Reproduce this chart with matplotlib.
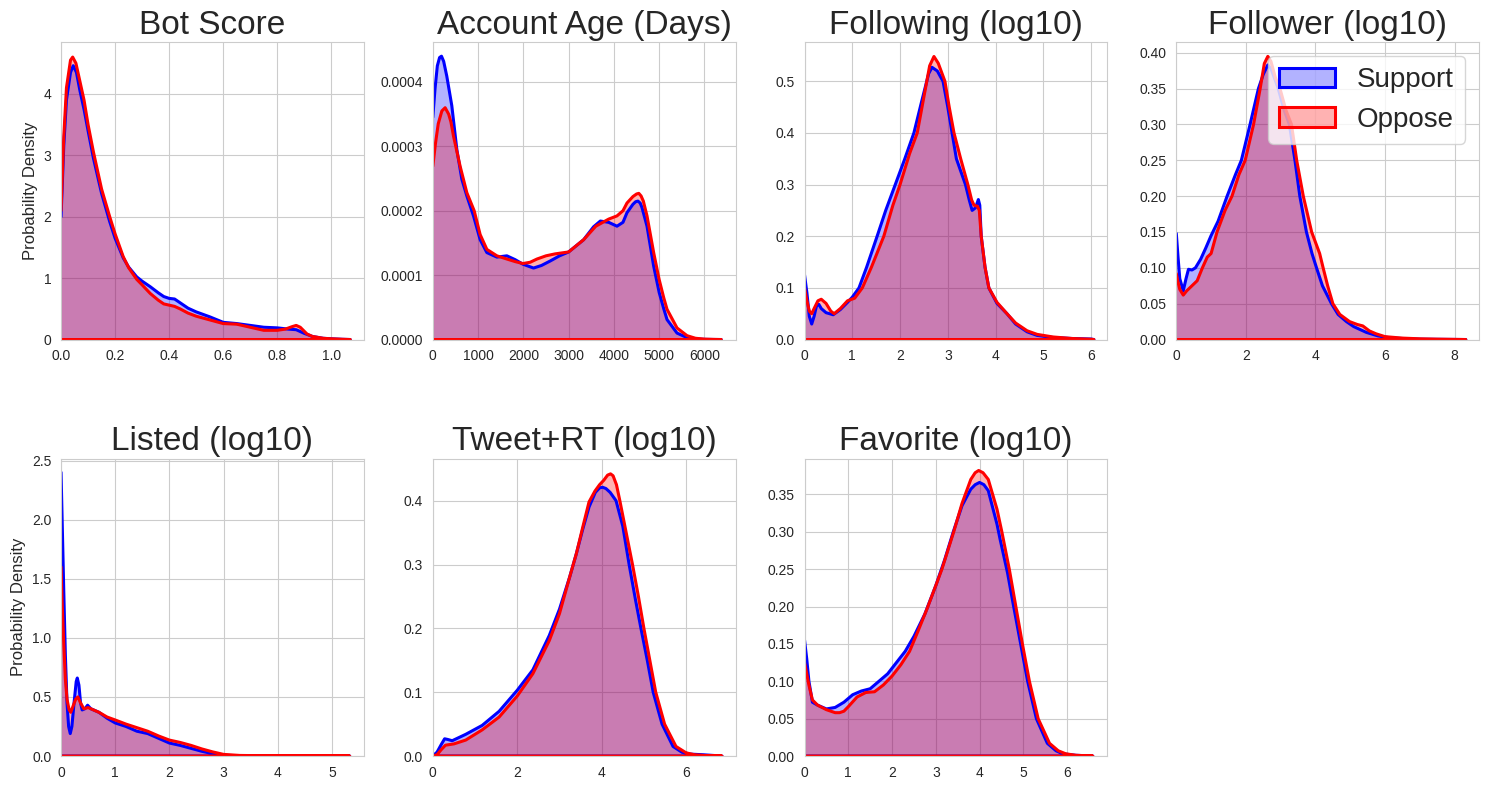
import matplotlib
matplotlib.use("Agg")
import matplotlib.pyplot as plt
from matplotlib.ticker import FormatStrFormatter
from matplotlib.patches import Patch
from matplotlib.colors import to_rgba
import seaborn as sns

sns.set_style("whitegrid")
plt.rcParams['font.family'] = ['Liberation Sans', 'DejaVu Sans']

titles = ["Bot Score", "Account Age (Days)", "Following (log10)", "Follower (log10)",
          "Listed (log10)", "Tweet+RT (log10)", "Favorite (log10)"]
labels = ["Support", "Oppose"]

bot_support = [(0,2.0),(0.01,3.15),(0.02,3.9),(0.035,4.35),(0.045,4.46),(0.057,4.35),(0.07,4.05),(0.085,3.75),
               (0.1,3.4),(0.12,2.95),(0.15,2.38),(0.18,1.92),(0.2,1.65),(0.23,1.33),(0.25,1.18),(0.28,1.02),
               (0.3,0.95),(0.33,0.86),(0.36,0.76),(0.38,0.7),(0.4,0.67),(0.42,0.66),(0.44,0.6),(0.47,0.51),
               (0.5,0.45),(0.55,0.37),(0.6,0.28),(0.65,0.26),(0.7,0.23),(0.75,0.2),(0.8,0.19),(0.84,0.17),
               (0.87,0.16),(0.9,0.1),(0.93,0.05),(0.97,0.02),(1.0,0.012),(1.04,0.004),(1.07,0)]
bot_oppose = [(0,2.1),(0.01,3.3),(0.02,4.1),(0.035,4.55),(0.043,4.6),(0.055,4.5),(0.07,4.2),(0.085,3.9),
              (0.1,3.5),(0.12,3.05),(0.15,2.45),(0.18,2.0),(0.2,1.72),(0.23,1.35),(0.25,1.17),(0.28,0.98),
              (0.3,0.89),(0.33,0.75),(0.36,0.64),(0.38,0.58),(0.4,0.56),(0.42,0.54),(0.44,0.5),(0.47,0.43),
              (0.5,0.38),(0.55,0.32),(0.6,0.26),(0.65,0.25),(0.7,0.2),(0.75,0.15),(0.8,0.15),(0.83,0.17),
              (0.855,0.21),(0.87,0.23),(0.885,0.2),(0.91,0.09),(0.93,0.05),(0.97,0.02),(1.0,0.012),(1.04,0.004),(1.07,0)]

# account age densities in units of 1e-4
age_support = [(0,3.45),(50,3.9),(100,4.25),(150,4.38),(192,4.40),(240,4.32),(309,4.09),(420,3.63),(531,2.95),
               (641,2.49),(752,2.23),(899,1.92),(1046,1.55),(1194,1.35),(1415,1.28),(1636,1.3),(1820,1.24),
               (1990,1.17),(2225,1.11),(2400,1.15),(2594,1.22),(2800,1.3),(3000,1.36),(3331,1.55),(3550,1.75),
               (3700,1.84),(3884,1.82),(4068,1.76),(4200,1.82),(4289,1.97),(4420,2.1),(4480,2.14),(4530,2.15),
               (4580,2.12),(4620,2.05),(4731,1.76),(4878,1.14),(5000,0.73),(5100,0.48),(5173,0.31),(5394,0.10),
               (5615,0.03),(5800,0.01),(6000,0.003),(6200,0.001),(6370,0)]
age_oppose = [(0,2.69),(60,3.05),(120,3.35),(200,3.55),(273,3.6),(350,3.5),(400,3.38),(457,3.16),(604,2.69),
              (752,2.28),(914,2.0),(1046,1.63),(1194,1.4),(1415,1.3),(1636,1.25),(1820,1.21),(1990,1.18),
              (2150,1.2),(2300,1.25),(2500,1.3),(2700,1.33),(3000,1.36),(3331,1.55),(3600,1.76),(3884,1.87),
              (4068,1.92),(4200,2.0),(4289,2.12),(4420,2.22),(4500,2.26),(4550,2.27),(4600,2.23),(4650,2.15),
              (4731,1.92),(4878,1.35),(5000,0.93),(5100,0.65),(5173,0.47),(5394,0.18),(5615,0.06),(5800,0.02),
              (6000,0.006),(6200,0.002),(6370,0)]

following_support = [(0,0.125),(0.05,0.09),(0.1,0.045),(0.15,0.03),(0.2,0.045),(0.25,0.065),(0.3,0.068),
                     (0.35,0.06),(0.45,0.052),(0.6,0.048),(0.75,0.058),(0.9,0.072),(1.0,0.082),(1.14,0.1),
                     (1.3,0.14),(1.52,0.2),(1.7,0.25),(1.9,0.3),(2.1,0.35),(2.29,0.4),(2.45,0.46),(2.6,0.515),
                     (2.67,0.527),(2.78,0.52),(2.9,0.5),(3.0,0.45),(3.09,0.4),(3.18,0.35),(3.37,0.3),(3.45,0.27),
                     (3.51,0.25),(3.58,0.255),(3.64,0.271),(3.67,0.26),(3.7,0.2),(3.78,0.14),(3.86,0.1),
                     (4.03,0.07),(4.24,0.05),(4.42,0.03),(4.66,0.015),(4.87,0.008),(5.2,0.004),(5.6,0.002),
                     (6.0,0.001),(6.06,0)]
following_oppose = [(0,0.1),(0.05,0.075),(0.1,0.055),(0.15,0.05),(0.2,0.06),(0.28,0.075),(0.35,0.078),
                    (0.45,0.07),(0.55,0.055),(0.62,0.05),(0.75,0.06),(0.9,0.075),(1.05,0.08),(1.21,0.1),
                    (1.4,0.14),(1.66,0.2),(1.85,0.26),(2.0,0.3),(2.2,0.36),(2.36,0.4),(2.5,0.47),(2.62,0.53),
                    (2.71,0.548),(2.8,0.535),(2.94,0.5),(3.03,0.45),(3.13,0.4),(3.27,0.35),(3.42,0.3),
                    (3.5,0.27),(3.55,0.26),(3.62,0.258),(3.66,0.25),(3.7,0.2),(3.78,0.14),(3.86,0.1),
                    (4.03,0.072),(4.24,0.05),(4.42,0.032),(4.66,0.017),(4.87,0.01),(5.2,0.005),(5.6,0.002),
                    (6.0,0.0005),(6.06,0)]

follower_support = [(0,0.148),(0.05,0.115),(0.1,0.085),(0.2,0.068),(0.28,0.085),(0.35,0.098),(0.45,0.097),
                    (0.55,0.1),(0.7,0.112),(0.85,0.128),(1.0,0.145),(1.2,0.165),(1.46,0.2),(1.7,0.23),
                    (1.87,0.25),(2.12,0.3),(2.36,0.35),(2.5,0.37),(2.63,0.383),(2.72,0.378),(2.82,0.365),
                    (2.93,0.35),(3.1,0.32),(3.25,0.3),(3.41,0.25),(3.55,0.2),(3.74,0.15),(3.9,0.12),
                    (4.03,0.1),(4.2,0.075),(4.46,0.05),(4.65,0.035),(4.89,0.025),(5.1,0.018),(5.46,0.01),
                    (5.8,0.005),(6.2,0.002),(7.0,0.0005),(8.32,0)]
follower_oppose = [(0,0.092),(0.05,0.08),(0.1,0.07),(0.2,0.062),(0.3,0.068),(0.45,0.075),(0.6,0.082),
                   (0.75,0.1),(0.89,0.115),(1.0,0.12),(1.17,0.15),(1.4,0.18),(1.6,0.2),(1.8,0.23),(1.98,0.25),
                   (2.22,0.3),(2.41,0.35),(2.53,0.385),(2.63,0.395),(2.72,0.388),(2.85,0.365),(2.98,0.35),
                   (3.15,0.32),(3.31,0.3),(3.46,0.25),(3.65,0.2),(3.89,0.15),(4.12,0.12),(4.22,0.1),
                   (4.35,0.075),(4.5,0.05),(4.7,0.035),(4.98,0.025),(5.2,0.021),(5.36,0.019),(5.55,0.012),
                   (5.74,0.008),(6.0,0.004),(6.5,0.002),(7.0,0.001),(7.5,0.0005),(8.32,0)]

listed_support = [(0,2.4),(0.02,2.0),(0.05,1.4),(0.08,0.85),(0.11,0.45),(0.14,0.25),(0.17,0.19),(0.2,0.25),
                  (0.24,0.45),(0.28,0.63),(0.3,0.66),(0.33,0.6),(0.36,0.45),(0.39,0.39),(0.44,0.4),
                  (0.49,0.43),(0.55,0.4),(0.7,0.37),(0.85,0.32),(1.0,0.28),(1.2,0.25),(1.4,0.21),(1.6,0.19),
                  (1.8,0.15),(2.0,0.11),(2.2,0.09),(2.4,0.065),(2.6,0.04),(2.8,0.02),(3.0,0.006),(3.3,0.003),
                  (4.0,0.001),(5.33,0)]
listed_oppose = [(0,1.6),(0.02,1.3),(0.05,0.95),(0.08,0.65),(0.11,0.48),(0.15,0.39),(0.18,0.37),(0.22,0.42),
                 (0.27,0.48),(0.31,0.5),(0.36,0.45),(0.42,0.4),(0.5,0.41),(0.6,0.39),(0.7,0.37),(0.85,0.33),
                 (1.0,0.305),(1.2,0.27),(1.4,0.24),(1.6,0.21),(1.8,0.17),(2.0,0.135),(2.2,0.115),(2.4,0.09),
                 (2.6,0.06),(2.8,0.035),(3.0,0.014),(3.3,0.005),(4.0,0.001),(5.33,0)]

tweet_support = [(0,0.0),(0.1,0.006),(0.2,0.018),(0.28,0.027),(0.35,0.026),(0.46,0.024),(0.78,0.034),
                 (1.17,0.048),(1.57,0.07),(2.0,0.103),(2.37,0.135),(2.76,0.189),(3.0,0.23),(3.24,0.28),
                 (3.4,0.317),(3.55,0.355),(3.7,0.39),(3.85,0.413),(3.95,0.42),(4.02,0.421),(4.1,0.419),
                 (4.2,0.413),(4.34,0.4),(4.5,0.36),(4.65,0.3),(4.8,0.245),(4.93,0.2),(5.08,0.15),(5.22,0.1),
                 (5.43,0.05),(5.69,0.015),(5.9,0.006),(6.1,0.003),(6.4,0.002),(6.85,0)]
tweet_oppose = [(0,0),(0.1,0.002),(0.2,0.01),(0.3,0.017),(0.5,0.019),(0.78,0.025),(1.17,0.041),(1.57,0.061),
                (2.0,0.094),(2.37,0.129),(2.76,0.181),(3.0,0.223),(3.24,0.28),(3.4,0.317),(3.55,0.358),
                (3.7,0.398),(3.84,0.415),(3.95,0.425),(4.05,0.432),(4.14,0.44),(4.21,0.442),(4.27,0.439),
                (4.35,0.425),(4.43,0.4),(4.58,0.35),(4.73,0.3),(4.87,0.25),(5.0,0.2),(5.14,0.15),(5.28,0.1),
                (5.49,0.05),(5.76,0.015),(6.0,0.005),(6.2,0.002),(6.5,0.0005),(6.85,0)]

favorite_support = [(0,0.155),(0.05,0.13),(0.1,0.1),(0.18,0.072),(0.3,0.068),(0.5,0.063),(0.7,0.065),
                    (0.9,0.072),(1.1,0.082),(1.3,0.087),(1.5,0.09),(1.7,0.1),(1.9,0.11),(2.1,0.125),
                    (2.3,0.14),(2.5,0.16),(2.75,0.19),(3.0,0.228),(3.2,0.262),(3.4,0.3),(3.6,0.335),
                    (3.8,0.357),(3.9,0.363),(4.0,0.366),(4.1,0.363),(4.2,0.355),(4.4,0.31),(4.47,0.29),
                    (4.64,0.245),(4.78,0.2),(4.94,0.15),(5.1,0.1),(5.3,0.05),(5.55,0.017),(5.75,0.007),
                    (5.9,0.003),(6.2,0.001),(6.59,0)]
favorite_oppose = [(0,0.125),(0.05,0.11),(0.1,0.095),(0.18,0.075),(0.3,0.068),(0.5,0.062),(0.7,0.058),
                   (0.8,0.058),(0.9,0.06),(1.0,0.066),(1.2,0.079),(1.4,0.085),(1.6,0.086),(1.8,0.095),
                   (2.0,0.107),(2.2,0.122),(2.4,0.14),(2.6,0.168),(2.8,0.197),(3.0,0.228),(3.14,0.25),
                   (3.41,0.3),(3.6,0.338),(3.8,0.37),(3.9,0.379),(3.98,0.382),(4.08,0.379),(4.2,0.37),
                   (4.4,0.33),(4.51,0.3),(4.68,0.25),(4.83,0.2),(4.98,0.15),(5.14,0.1),(5.34,0.05),(5.6,0.017),
                   (5.8,0.007),(5.97,0.003),(6.2,0.001),(6.59,0)]

panels = [
    (bot_support, bot_oppose, 1.0, (0, 1.12), (0, 4.845), None),
    (age_support, age_oppose, 1e-4, (0, 6686), (0, 4.62e-4), '%.4f'),
    (following_support, following_oppose, 1.0, (0, 6.34), (0, 0.576), None),
    (follower_support, follower_oppose, 1.0, (0, 8.7), (0, 0.415), None),
    (listed_support, listed_oppose, 1.0, (0, 5.59), (0, 2.517), None),
    (tweet_support, tweet_oppose, 1.0, (0, 7.17), (0, 0.466), None),
    (favorite_support, favorite_oppose, 1.0, (0, 6.92), (0, 0.398), None),
]
colors = ["blue", "red"]
LW = 2.2

fig, axes = plt.subplots(2, 4, figsize=(14.89, 7.90), dpi=100)
fig.subplots_adjust(left=0.041, right=0.9933, top=0.9468, bottom=0.043, wspace=0.228, hspace=0.40)
axes = axes.ravel()

for i, (sup, opp, scale, xl, yl, fmt) in enumerate(panels):
    ax = axes[i]
    for series, color in zip([sup, opp], colors):
        xs = [p[0] for p in series]
        ys = [p[1] * scale for p in series]
        ax.fill_between(xs, 0, ys, facecolor=to_rgba(color, 0.3), edgecolor='none', linewidth=0)
        # curve followed by the baseline back to the start (no left vertical edge)
        ax.plot(xs + [xs[0]], ys + [0], color=color, linewidth=LW, solid_joinstyle='round')
    ax.set_xlim(*xl)
    ax.set_ylim(*yl)
    ax.set_title(titles[i], fontsize=24)
    ax.tick_params(labelsize=10)
    if fmt:
        ax.yaxis.set_major_formatter(FormatStrFormatter(fmt))
    if i in (0, 4):
        ax.set_ylabel("Probability Density", fontsize=12)
    if i == 3:
        handles = [Patch(facecolor=to_rgba(c, 0.3), edgecolor=c, linewidth=LW) for c in colors]
        ax.legend(handles, labels, loc="upper right", fontsize=20)

axes[7].axis("off")
fig.savefig("out.png", dpi=100)
